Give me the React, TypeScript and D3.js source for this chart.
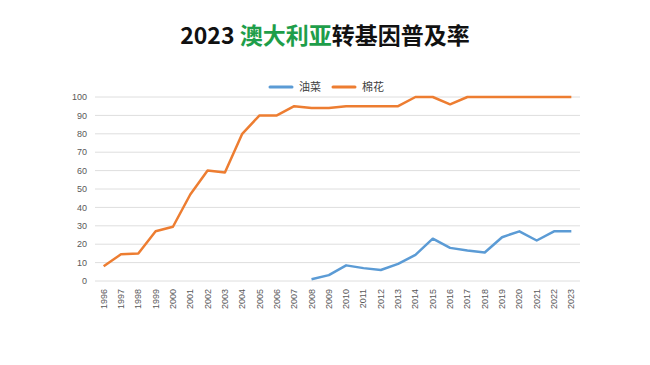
import { useEffect, useRef } from "react";
import * as d3 from "d3";

const years = [
  "1996", "1997", "1998", "1999", "2000", "2001", "2002", "2003", "2004", "2005",
  "2006", "2007", "2008", "2009", "2010", "2011", "2012", "2013", "2014", "2015",
  "2016", "2017", "2018", "2019", "2020", "2021", "2022", "2023",
];

// 棉花 (cotton)
const cotton = [
  8, 14.5, 15, 27, 29.5, 47, 60, 59, 80, 90,
  90, 95, 94, 94, 95, 95, 95, 95, 100, 100,
  96, 100, 100, 100, 100, 100, 100, 100,
];

// 油菜 (canola), starts in 2008
const canolaYears = [
  "2008", "2009", "2010", "2011", "2012", "2013", "2014", "2015",
  "2016", "2017", "2018", "2019", "2020", "2021", "2022", "2023",
];
const canola = [1, 3.2, 8.5, 7, 6, 9.3, 14.2, 23, 18, 16.6, 15.5, 23.8, 27, 22, 27, 27.1];

const yTicks = [0, 10, 20, 30, 40, 50, 60, 70, 80, 90, 100];

const width = 650;
const height = 365;
const left = 95;
const right = 580;
const top = 97;
const bottom = 281;

const App = () => {
  const ref = useRef<SVGSVGElement>(null);

  useEffect(() => {
    const svg = d3.select(ref.current);
    svg.selectAll("*").remove();

    svg.append("rect").attr("width", width).attr("height", height).attr("fill", "#fff");

    // title
    const title = svg
      .append("text")
      .attr("x", 325)
      .attr("y", 44)
      .attr("text-anchor", "middle")
      .attr("font-family", "'Noto Sans CJK SC', 'DejaVu Sans', sans-serif")
      .attr("font-weight", "bold")
      .attr("font-size", 23)
      .attr("fill", "#111");
    title.append("tspan").text("2023 ");
    title.append("tspan").attr("fill", "#1e9e4a").text("澳大利亚");
    title.append("tspan").text("转基因普及率");

    const x = d3.scalePoint<string>().domain(years).range([left, right]).padding(0.5);
    const y = d3.scaleLinear().domain([0, 100]).range([bottom, top]);

    // grid
    svg
      .append("g")
      .selectAll("line")
      .data(yTicks)
      .join("line")
      .attr("x1", left)
      .attr("x2", right)
      .attr("y1", (d) => y(d))
      .attr("y2", (d) => y(d))
      .attr("stroke", "#dedede")
      .attr("stroke-width", 1);

    // y labels
    svg
      .append("g")
      .selectAll("text")
      .data(yTicks)
      .join("text")
      .attr("x", 87)
      .attr("y", (d) => y(d))
      .attr("dy", "0.35em")
      .attr("text-anchor", "end")
      .attr("font-family", "'Liberation Sans', Arial, sans-serif")
      .attr("font-size", 9)
      .attr("fill", "#595959")
      .text((d) => d);

    // x labels
    svg
      .append("g")
      .selectAll("text")
      .data(years)
      .join("text")
      .attr("transform", (d) => `translate(${(x(d) ?? 0) + 3},${bottom + 8}) rotate(-90)`)
      .attr("text-anchor", "end")
      .attr("font-family", "'Liberation Sans', Arial, sans-serif")
      .attr("font-size", 9)
      .attr("fill", "#595959")
      .text((d) => d);

    const line = d3
      .line<[string, number]>()
      .x((d) => x(d[0]) ?? 0)
      .y((d) => y(d[1]));

    svg
      .append("path")
      .datum(canolaYears.map((yr, i) => [yr, canola[i]] as [string, number]))
      .attr("fill", "none")
      .attr("stroke", "#5b9bd5")
      .attr("stroke-width", 2.5)
      .attr("stroke-linejoin", "round")
      .attr("d", line);

    svg
      .append("path")
      .datum(years.map((yr, i) => [yr, cotton[i]] as [string, number]))
      .attr("fill", "none")
      .attr("stroke", "#ed7d31")
      .attr("stroke-width", 2.5)
      .attr("stroke-linejoin", "round")
      .attr("d", line);

    // legend
    const legend = [
      { name: "油菜", color: "#5b9bd5", x: 270 },
      { name: "棉花", color: "#ed7d31", x: 333 },
    ];
    const lg = svg.append("g").selectAll("g").data(legend).join("g");
    lg.append("line")
      .attr("x1", (d) => d.x)
      .attr("x2", (d) => d.x + 22)
      .attr("y1", 87)
      .attr("y2", 87)
      .attr("stroke", (d) => d.color)
      .attr("stroke-width", 3)
      .attr("stroke-linecap", "round");
    lg.append("text")
      .attr("x", (d) => d.x + 29)
      .attr("y", 87)
      .attr("dy", "0.35em")
      .attr("font-family", "'Noto Sans CJK SC', sans-serif")
      .attr("font-size", 11)
      .attr("fill", "#404040")
      .text((d) => d.name);
  });

  return (
    <svg
      ref={ref}
      width={width}
      height={height}
      style={{ position: "absolute", left: 0, top: 0 }}
    />
  );
};

export default App;
